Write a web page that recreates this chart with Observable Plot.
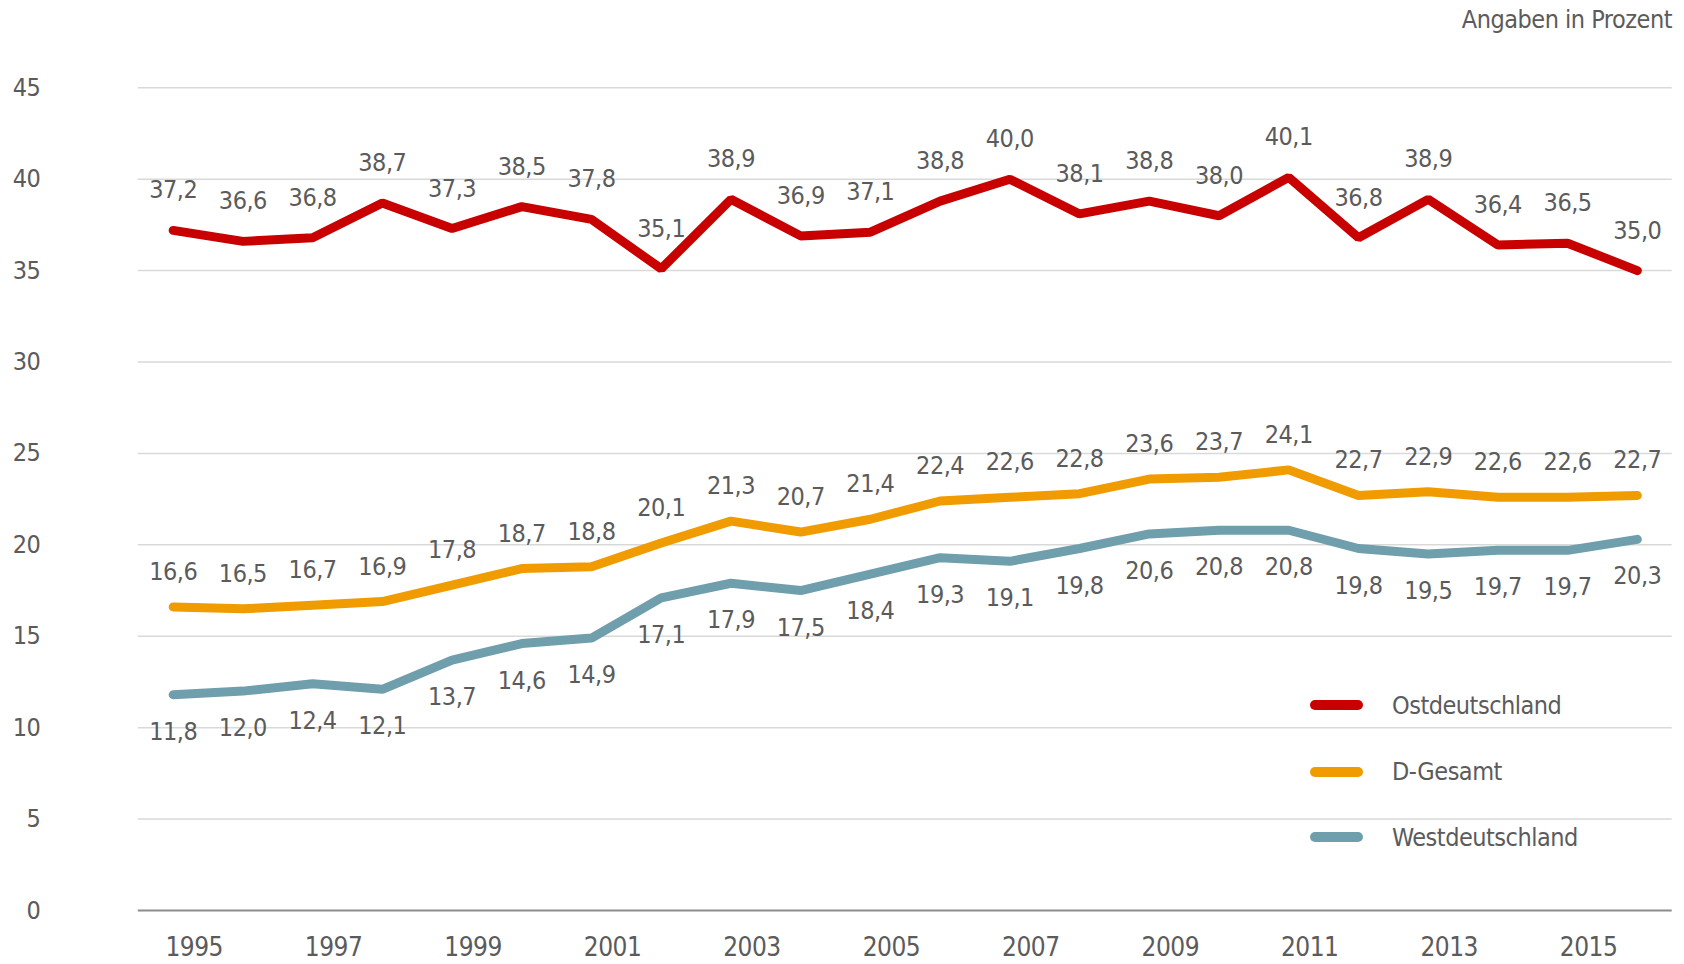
<!DOCTYPE html>
<html><head><meta charset="utf-8">
<script src="https://cdn.jsdelivr.net/npm/d3@7"></script>
<script src="https://cdn.jsdelivr.net/npm/@observablehq/plot@0.6"></script>
<style>
body{margin:0;background:#fff;}
#wrap{position:relative;width:1684px;height:964px;font-family:"Liberation Sans Narrow","DejaVu Sans Condensed",sans-serif;font-stretch:condensed;color:#5b5b5b;}
#unit{position:absolute;right:12px;top:7px;font-size:25px;line-height:1;letter-spacing:-0.5px;}
.leg{position:absolute;left:1310px;height:27px;display:flex;align-items:center;font-size:25px;line-height:1;letter-spacing:-0.5px;}
.sw{width:53px;height:10px;border-radius:5px;margin-right:29px;}
#chart{position:absolute;left:0;top:0;}
#chart svg text{letter-spacing:-0.5px;}
</style></head><body>
<div id="wrap"><div id="chart"></div><div id="unit">Angaben in Prozent</div></div>
<script>
const years = [1995,1996,1997,1998,1999,2000,2001,2002,2003,2004,2005,2006,2007,2008,2009,2010,2011,2012,2013,2014,2015,2016];
const ost = [37.2,36.6,36.8,38.7,37.3,38.5,37.8,35.1,38.9,36.9,37.1,38.8,40.0,38.1,38.8,38.0,40.1,36.8,38.9,36.4,36.5,35.0];
const gesamt = [16.6,16.5,16.7,16.9,17.8,18.7,18.8,20.1,21.3,20.7,21.4,22.4,22.6,22.8,23.6,23.7,24.1,22.7,22.9,22.6,22.6,22.7];
const west = [11.8,12.0,12.4,12.1,13.7,14.6,14.9,17.1,17.9,17.5,18.4,19.3,19.1,19.8,20.6,20.8,20.8,19.8,19.5,19.7,19.7,20.3];
const seriesNames = ["Ostdeutschland","D-Gesamt","Westdeutschland"];
const seriesColors = ["#c80000","#f09b00","#6f9eac"];
const yTicks = [0,5,10,15,20,25,30,35,40,45];
const xTicks = [1995,1997,1999,2001,2003,2005,2007,2009,2011,2013,2015];

const seriesValues = [ost, gesamt, west];
const labelOffsets = [-40, -35, 37];
const fmt = v => v.toFixed(1).replace(".", ",");
const tables = seriesValues.map((vals, i) => years.map((y, j) => ({year: y, value: vals[j], series: seriesNames[i]})));

const textColor = "#5b5b5b";
const fontFamily = '"Liberation Sans Narrow","DejaVu Sans Condensed",sans-serif';

const marks = [
  Plot.ruleY(yTicks.filter(d => d > 0), {stroke: "#d9d9d9", strokeWidth: 1.5}),
  Plot.ruleY([0], {stroke: "#8c8c8c", strokeWidth: 2}),
  Plot.axisY({ticks: yTicks, tickSize: 0, tickPadding: 98, label: null, tickFormat: d => String(d), fontSize: 25}),
  Plot.axisX({ticks: xTicks, tickSize: 0, tickPadding: 27, dx: 21, label: null, tickFormat: d => String(d), fontSize: 26})
];
tables.forEach((t, i) => {
  marks.push(Plot.line(t, {x: "year", y: "value", stroke: seriesColors[i], strokeWidth: 9, strokeLinecap: "round", strokeLinejoin: "miter"}));
});
tables.forEach((t, i) => {
  marks.push(Plot.text(t, {x: "year", y: "value", text: d => fmt(d.value), dy: labelOffsets[i], fill: textColor, fontSize: 25}));
});

const chart = Plot.plot({
  width: 1684, height: 964,
  marginLeft: 137.8, marginRight: 12.3, marginTop: 87.3, marginBottom: 54,
  x: {type: "linear", domain: [1994.5, 2016.5]},
  y: {domain: [0, 45]},
  style: {fontFamily, color: textColor, background: "transparent", fontStretch: "condensed"},
  marks
});
document.getElementById("chart").appendChild(chart);

const legendY = [705, 771.7, 837.3];
const wrap = document.getElementById("wrap");
seriesNames.forEach((name, i) => {
  const item = document.createElement("div");
  item.className = "leg";
  item.style.top = (legendY[i] - 13.5) + "px";
  const sw = document.createElement("div");
  sw.className = "sw";
  sw.style.background = seriesColors[i];
  const lab = document.createElement("span");
  lab.textContent = name;
  item.appendChild(sw); item.appendChild(lab);
  wrap.appendChild(item);
});
</script>
</body></html>
